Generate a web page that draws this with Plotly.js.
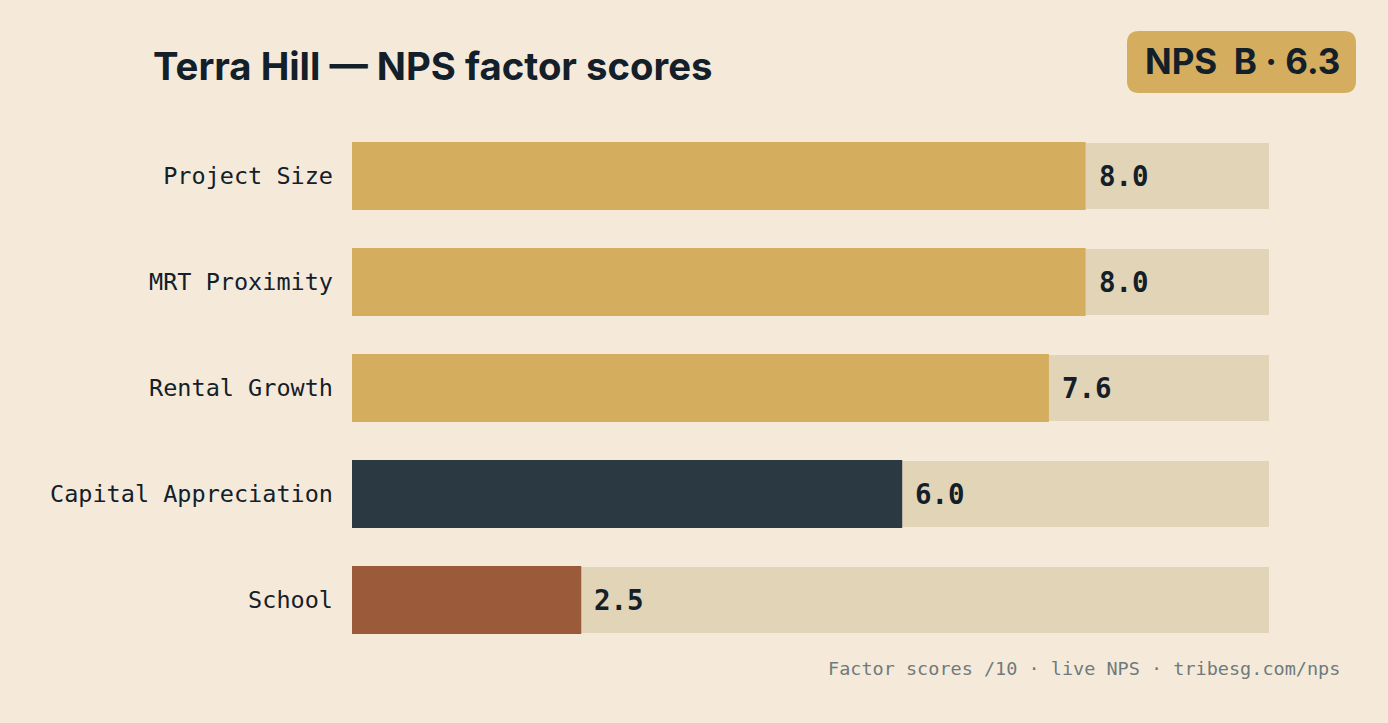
<!DOCTYPE html>
<html><head><meta charset="utf-8">
<script src="https://cdn.plot.ly/plotly-3.0.1.min.js"></script>
<style>html,body{margin:0;padding:0;background:#F5EADA;}#chart{width:1388px;height:723px;}</style>
</head><body><div id="chart"></div>
<script>
const factors = ["Project Size", "MRT Proximity", "Rental Growth", "Capital Appreciation", "School"];
const scores = [8.0, 8.0, 7.6, 6.0, 2.5];
const barColors = ["#D4AE5E", "#D4AE5E", "#D4AE5E", "#2B3A42", "#9B5A3A"];
const maxScore = 10;
const titleText = "Terra Hill — NPS factor scores";
const badgeText = "NPS  B · 6.3";
const footerText = "Factor scores /10 · live NPS · tribesg.com/nps";

const W = 1388, H = 723;
const M = {l: 352, r: 119, t: 123, b: 70};
const pw = W - M.l - M.r, ph = H - M.t - M.b;
const px = x => (x - M.l) / pw;
const py = y => (H - M.b - y) / ph;

function roundRect(x0, y0, x1, y1, r) {
  const P = (x, y) => px(x) + "," + py(y);
  return "M" + P(x0 + r, y0) + " L" + P(x1 - r, y0) + " Q" + P(x1, y0) + " " + P(x1, y0 + r) +
    " L" + P(x1, y1 - r) + " Q" + P(x1, y1) + " " + P(x1 - r, y1) +
    " L" + P(x0 + r, y1) + " Q" + P(x0, y1) + " " + P(x0, y1 - r) +
    " L" + P(x0, y0 + r) + " Q" + P(x0, y0) + " " + P(x0 + r, y0) + " Z";
}

const mono = "DejaVu Sans Mono, Liberation Mono, monospace";
const sans = "Inter, Roboto, sans-serif";

const track = {
  type: "bar", orientation: "h", y: factors, x: factors.map(() => maxScore),
  marker: {color: "#E2D4B6"}, width: 0.623, hoverinfo: "skip", showlegend: false
};
const bars = {
  type: "bar", orientation: "h", y: factors, x: scores,
  marker: {color: barColors}, width: 0.642, hoverinfo: "x+y", showlegend: false
};

const annotations = factors.map((f, i) => ({
  x: scores[i], y: f, xref: "x", yref: "y", text: scores[i].toFixed(1),
  showarrow: false, xanchor: "left", yanchor: "middle", xshift: 11,
  font: {family: mono, size: 27.5, color: "#13202A", weight: 700}
}));
annotations.push({
  xref: "paper", yref: "paper", x: px(1342), y: py(668), xanchor: "right", yanchor: "middle",
  text: footerText, showarrow: false, font: {family: mono, size: 18.5, color: "#707A7C"}
});
annotations.push({
  xref: "paper", yref: "paper", x: px(1242), y: py(61), xanchor: "center", yanchor: "middle",
  text: badgeText, showarrow: false, font: {family: sans, size: 35, color: "#13202A", weight: 700}
});

const layout = {
  width: W, height: H,
  paper_bgcolor: "#F5EADA", plot_bgcolor: "#F5EADA",
  margin: M, barmode: "overlay",
  title: {text: "<b>" + titleText + "</b>", x: 153 / W, xref: "container", xanchor: "left",
          y: 1 - 67 / H, yanchor: "middle", yref: "container",
          font: {family: sans, size: 38.3, color: "#13202A"}},
  xaxis: {range: [0, maxScore], showgrid: false, zeroline: false, showticklabels: false, fixedrange: true},
  yaxis: {autorange: "reversed", showgrid: false, zeroline: false, ticks: "", ticklabelstandoff: 18,
          tickfont: {family: mono, size: 23.5, color: "#13202A"}},
  shapes: [{type: "path", xref: "paper", yref: "paper", path: roundRect(1127, 31, 1356, 93, 12),
            fillcolor: "#D4AE5E", line: {width: 0}, layer: "below"}],
  annotations: annotations
};
Plotly.newPlot("chart", [track, bars], layout, {displayModeBar: false, staticPlot: true});
</script></body></html>
